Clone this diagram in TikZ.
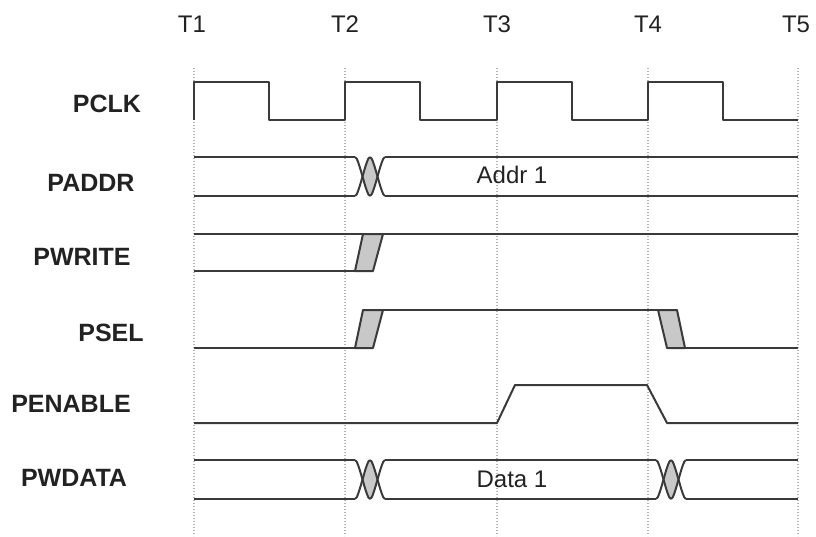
\documentclass[tikz,border=0pt]{standalone}
\usepackage{fontspec}
\setmainfont{Liberation Sans}
\definecolor{sigc}{HTML}{3A3A3A}
\definecolor{fillc}{HTML}{C8C8C8}
\definecolor{gridc}{HTML}{B4B4B4}
\definecolor{txtc}{HTML}{222222}
\begin{document}
\begin{tikzpicture}[x=1pt,y=-1pt,
  sig/.style={draw=sigc, line width=2pt, line join=round},
  und/.style={draw=sigc, fill=fillc, line width=2pt, line join=round},
  gridln/.style={draw=gridc, line width=1.2pt, dash pattern=on 1pt off 2pt},
  lab/.style={font=\fontsize{25}{28}\selectfont\bfseries, text=txtc, inner sep=0pt},
  tlab/.style={font=\fontsize{24}{27}\selectfont, text=txtc, inner sep=0pt},
  xcross/.pic={
    \fill[fillc] (7.5,19.5) .. controls (10.25,9.75) and (13,0) .. (15,0)
      .. controls (17,0) and (19.75,9.75) .. (22.5,19.5)
      .. controls (19.75,29.25) and (17,39) .. (15,39)
      .. controls (13,39) and (10.25,29.25) .. (7.5,19.5) -- cycle;
    \draw[sig] (0,0) .. controls (4,0) and (11,39) .. (15,39);
    \draw[sig] (0,39) .. controls (4,39) and (11,0) .. (15,0);
    \draw[sig] (15,0) .. controls (19,0) and (26,39) .. (30,39);
    \draw[sig] (15,39) .. controls (19,39) and (26,0) .. (30,0);
  }]
\path[fill=white] (0,0) rectangle (816,536);
\useasboundingbox (0,0) rectangle (816,536);

% time grid
\foreach \x in {194,345,497,648,798} \draw[gridln] (\x,68) -- (\x,536);

% time labels
\node[tlab] (t1) at (192,24) {T1};
\node[tlab] (t2) at (345,24) {T2};
\node[tlab] (t3) at (497,24) {T3};
\node[tlab] (t4) at (648,24) {T4};
\node[tlab] (t5) at (796,24) {T5};

% signal labels
\node[lab] (lclk) at (107,104) {PCLK};
\node[lab] (laddr) at (91,183) {PADDR};
\node[lab] (lwrite) at (82,257) {PWRITE};
\node[lab] (lsel) at (111,333) {PSEL};
\node[lab] (lenable) at (71,404) {PENABLE};
\node[lab] (lwdata) at (74,478) {PWDATA};

% PCLK
\draw[sig] (194,120) -- (194,82) -- (269,82) -- (269,120) -- (345,120) -- (345,82)
  -- (420,82) -- (420,120) -- (497,120) -- (497,82) -- (572,82) -- (572,120)
  -- (648,120) -- (648,82) -- (723,82) -- (723,120) -- (798,120);

% PADDR
\draw[sig] (194,157) -- (355,157);
\draw[sig] (194,196) -- (355,196);
\pic at (355,157) {xcross};
\draw[sig] (385,157) -- (798,157);
\draw[sig] (385,196) -- (798,196);
\node[tlab] (addr) at (512,175) {Addr 1};

% PWRITE
\draw[sig] (194,234) -- (798,234);
\draw[sig] (194,271) -- (373,271);
\draw[und] (355,271) -- (373,271) -- (383,234) -- (363,234) -- cycle;

% PSEL
\draw[sig] (194,348) -- (373,348);
\draw[und] (355,348) -- (373,348) -- (383,310) -- (363,310) -- cycle;
\draw[sig] (363,310) -- (677,310);
\draw[und] (658,310) -- (677,310) -- (685,348) -- (667,348) -- cycle;
\draw[sig] (667,348) -- (798,348);

% PENABLE
\draw[sig] (194,423) -- (497,423) -- (515,385) -- (647,385) -- (667,423) -- (798,423);

% PWDATA
\draw[sig] (194,460) -- (355,460);
\draw[sig] (194,499) -- (355,499);
\pic at (355,460) {xcross};
\draw[sig] (385,460) -- (656,460);
\draw[sig] (385,499) -- (656,499);
\pic at (656,460) {xcross};
\draw[sig] (686,460) -- (798,460);
\draw[sig] (686,499) -- (798,499);
\node[tlab] (data) at (512,479) {Data 1};
\end{tikzpicture}
\end{document}
